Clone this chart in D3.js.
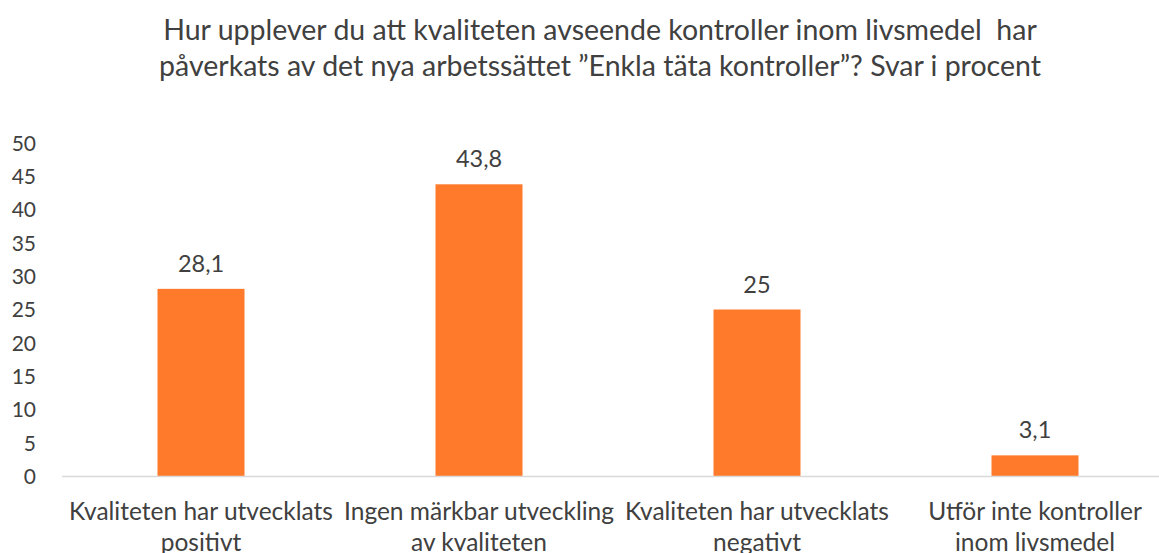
<!DOCTYPE html>
<html>
<head>
<meta charset="utf-8">
<script src="https://cdn.jsdelivr.net/npm/d3@7"></script>
<style>
  body { margin: 0; background: #fff; }
  svg { display: block; font-family: Lato, "Open Sans", sans-serif; }
  text { white-space: pre; }
</style>
</head>
<body>
<svg></svg>
<script>
// chart data
const titleLines = [
  'Hur upplever du att kvaliteten avseende kontroller inom livsmedel  har',
  'påverkats av det nya arbetssättet ”Enkla täta kontroller”? Svar i procent'
];
const categories = [
  ['Kvaliteten har utvecklats', 'positivt'],
  ['Ingen märkbar utveckling', 'av kvaliteten'],
  ['Kvaliteten har utvecklats', 'negativt'],
  ['Utför inte kontroller', 'inom livsmedel']
];
const values = [28.1, 43.8, 25, 3.1];
const labels = ['28,1', '43,8', '25', '3,1'];
const yTicks = [0, 5, 10, 15, 20, 25, 30, 35, 40, 45, 50];

const width = 1159, height = 553;
const textColor = '#404040';
const barColor = '#FF7B2B';

const svg = d3.select('svg')
  .attr('width', width)
  .attr('height', height);

// plot area
const plotLeft = 62, plotRight = 1174, plotTop = 143, plotBottom = 476;

const x = d3.scaleBand()
  .domain(d3.range(categories.length))
  .range([plotLeft, plotRight])
  .paddingInner(0.687)
  .paddingOuter(0.3435);

const y = d3.scaleLinear()
  .domain([0, 50])
  .range([plotBottom, plotTop]);

// title
svg.append('g')
  .selectAll('text')
  .data(titleLines)
  .enter()
  .append('text')
  .attr('x', 600)
  .attr('y', (d, i) => 40 + i * 36)
  .attr('text-anchor', 'middle')
  .attr('font-size', 28.5)
  .attr('fill', textColor)
  .text((d) => d);

// y axis labels (no axis line)
const yAxis = svg.append('g')
  .attr('transform', `translate(${plotLeft - 26},0)`)
  .call(d3.axisLeft(y).tickValues(yTicks).tickSize(0).tickPadding(0));
yAxis.select('.domain').remove();
yAxis.selectAll('text')
  .attr('font-family', 'Lato, "Open Sans", sans-serif')
  .attr('font-size', 21)
  .attr('fill', textColor)
  .attr('dy', '0.35em');

// bars
svg.append('g')
  .selectAll('rect')
  .data(values)
  .enter()
  .append('rect')
  .attr('x', (d, i) => x(i))
  .attr('y', (d) => y(d))
  .attr('width', x.bandwidth())
  .attr('height', (d) => y(0) - y(d))
  .attr('fill', barColor);

// baseline
svg.append('line')
  .attr('x1', plotLeft)
  .attr('x2', width)
  .attr('y1', y(0) + 0.5)
  .attr('y2', y(0) + 0.5)
  .attr('stroke', '#d9d9d9')
  .attr('stroke-width', 1.5);

// data labels
svg.append('g')
  .selectAll('text')
  .data(values)
  .enter()
  .append('text')
  .attr('x', (d, i) => x(i) + x.bandwidth() / 2)
  .attr('y', (d) => y(d) - 17)
  .attr('text-anchor', 'middle')
  .attr('font-size', 23.5)
  .attr('fill', textColor)
  .text((d, i) => labels[i]);

// category labels, two lines each
const cat = svg.append('g')
  .selectAll('text')
  .data(categories)
  .enter()
  .append('text')
  .attr('text-anchor', 'middle')
  .attr('font-size', 24.5)
  .attr('fill', textColor);

cat.selectAll('tspan')
  .data((d, i) => d.map((line) => ({ line, i })))
  .enter()
  .append('tspan')
  .attr('x', (d) => x(d.i) + x.bandwidth() / 2)
  .attr('y', (d, j) => 520 + j * 31)
  .text((d) => d.line);
</script>
</body>
</html>
